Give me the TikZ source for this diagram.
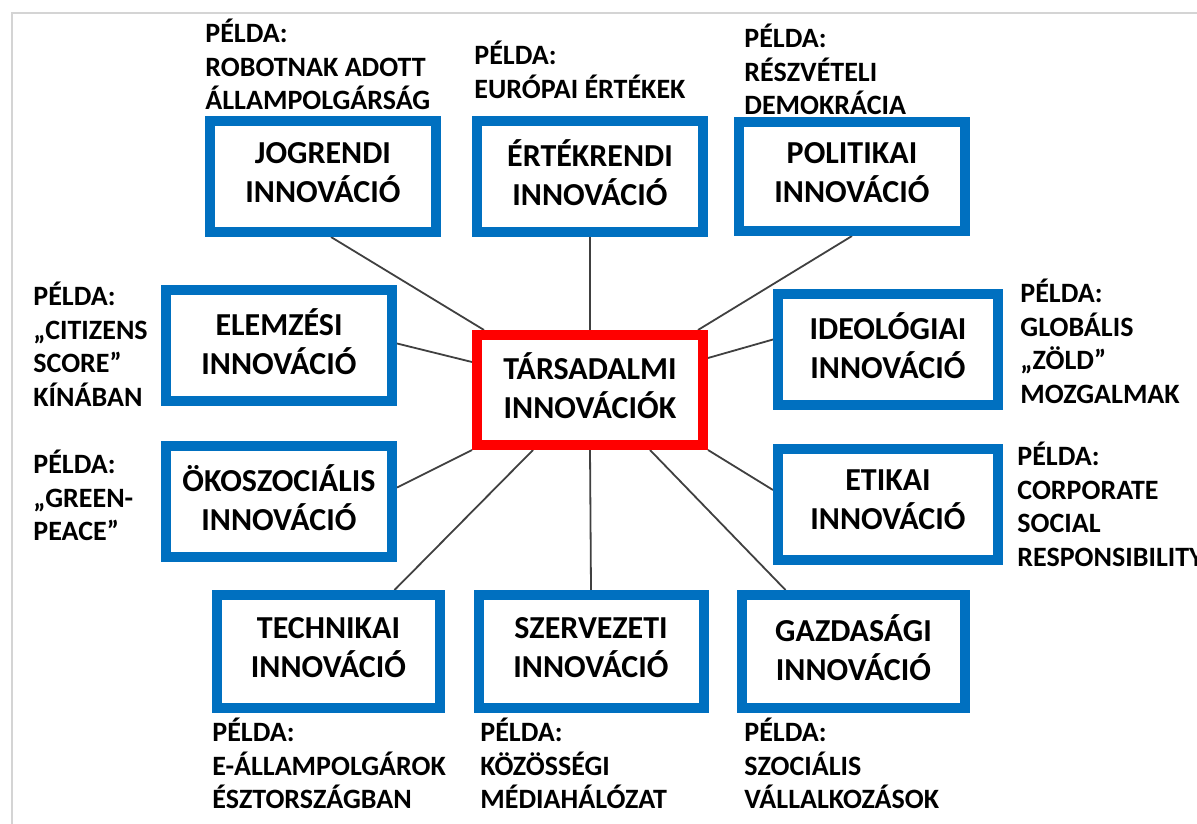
\documentclass[tikz,border=0pt]{standalone}
\usepackage{fontspec}
\setmainfont{Carlito}
\usetikzlibrary{backgrounds}
\definecolor{innoblue}{HTML}{0070C0}
\definecolor{innored}{HTML}{FF0000}
\definecolor{framegray}{HTML}{D4D4D4}

\begin{document}
\begin{tikzpicture}[x=0.5pt,y=-0.5pt,
	innobox/.style={draw=innoblue, line width=5pt, fill=white, inner sep=0pt,
		minimum width=113pt, minimum height=55.5pt, align=center,
		font=\fontsize{16}{19.5}\selectfont\bfseries,
		execute at begin node={\rule{0pt}{18pt}},
		execute at end node={\rule[-4pt]{0pt}{4pt}}},
	pelda/.style={anchor=north west, inner sep=0pt, align=left,
		font=\fontsize{14}{16.75}\selectfont\bfseries,
		execute at begin node={\rule{0pt}{14pt}}},
	link/.style={line width=0.9pt, draw=black!75}]
	\useasboundingbox (0,0) rectangle (1197,823);

	% frame
	\draw[framegray, line width=1pt] (12,830) -- (12,13) -- (1210,13);

	% center
	\node[innobox, draw=innored, minimum height=55pt] (mid) at (590,390) {TÁRSADALMI\\INNOVÁCIÓK};

	% top row
	\node[innobox] (jog) at (323,176.5) {JOGRENDI\\INNOVÁCIÓ};
	\node[innobox] (ert) at (590,176.5) {ÉRTÉKRENDI\\INNOVÁCIÓ};
	\node[innobox, minimum height=54.5pt] (pol) at (852,176.5) {POLITIKAI\\INNOVÁCIÓ};

	% sides
	\node[innobox, minimum width=113pt] (elem) at (279,345.5) {ELEMZÉSI\\INNOVÁCIÓ};
	\node[innobox, minimum width=113pt] (oko) at (279,501.5) {ÖKOSZOCIÁLIS\\INNOVÁCIÓ};
	\node[innobox, minimum width=110pt] (ideo) at (888,349.5) {IDEOLÓGIAI\\INNOVÁCIÓ};
	\node[innobox, minimum width=110pt] (etik) at (888,504) {ETIKAI\\INNOVÁCIÓ};

	% bottom row
	\node[innobox, minimum width=111.5pt, minimum height=56.5pt] (tech) at (328.5,651.5) {TECHNIKAI\\INNOVÁCIÓ};
	\node[innobox, minimum width=112.5pt, minimum height=56.5pt] (szerv) at (591,651.5) {SZERVEZETI\\INNOVÁCIÓ};
	\node[innobox, minimum width=111.5pt, minimum height=56.5pt] (gazd) at (853.5,651.5) {GAZDASÁGI\\INNOVÁCIÓ};

	% links
	\begin{scope}[on background layer]
		\draw[link] ([xshift=4pt]jog.south) -- ([xshift=6pt]mid.north west);
		\draw[link] (ert.south) -- (mid.north);
		\draw[link] (pol.south) -- ([xshift=-5pt]mid.north east);
		\draw[link] ([yshift=1pt]elem.east) -- ([yshift=14pt]mid.west);
		\draw[link] ([yshift=5pt]ideo.west) -- ([yshift=16pt]mid.east);
		\draw[link] ([yshift=7pt]oko.east) -- (mid.south west);
		\draw[link] ([yshift=7pt]etik.west) -- (mid.south east);
		\draw[link] ([xshift=33pt]tech.north) -- ([xshift=-28.5pt]mid.south);
		\draw[link] (szerv.north) -- (mid.south);
		\draw[link] ([xshift=-34pt]gazd.north) -- ([xshift=30pt]mid.south);
	\end{scope}

	% examples
	\draw (205,19) node[pelda] (jogpl) {PÉLDA:\\ROBOTNAK ADOTT\\ÁLLAMPOLGÁRSÁG};
	\draw (474,41) node[pelda] (ertpl) {PÉLDA:\\EURÓPAI ÉRTÉKEK};
	\draw (744,24) node[pelda] (polpl) {PÉLDA:\\RÉSZVÉTELI\\DEMOKRÁCIA};
	\draw (33,282) node[pelda] (elempl) {PÉLDA:\\„CITIZENS\\SCORE”\\KÍNÁBAN};
	\draw (33,450) node[pelda] (okopl) {PÉLDA:\\„GREEN-\\PEACE”};
	\draw (1020,279) node[pelda] (ideopl) {PÉLDA:\\GLOBÁLIS\\„ZÖLD”\\MOZGALMAK};
	\draw (1017,442) node[pelda] (etikpl) {PÉLDA:\\CORPORATE\\SOCIAL\\RESPONSIBILITY};
	\draw (212,718) node[pelda] (techpl) {PÉLDA:\\E-ÁLLAMPOLGÁROK\\ÉSZTORSZÁGBAN};
	\draw (480,718) node[pelda] (szervpl) {PÉLDA:\\KÖZÖSSÉGI\\MÉDIAHÁLÓZAT};
	\draw (744,718) node[pelda] (gazdpl) {PÉLDA:\\SZOCIÁLIS\\VÁLLALKOZÁSOK};

\end{tikzpicture}
\end{document}
